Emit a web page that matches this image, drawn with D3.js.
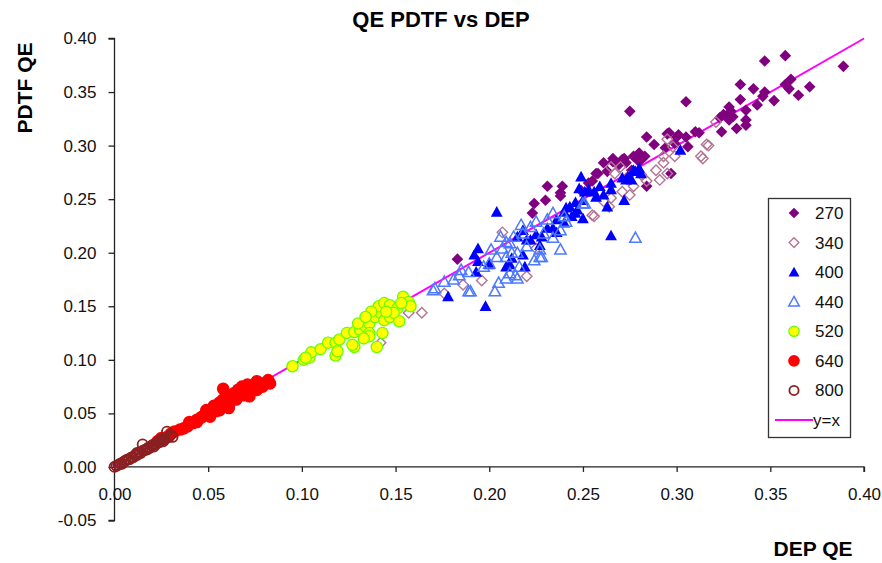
<!DOCTYPE html>
<html>
<head>
<meta charset="utf-8">
<script src="https://cdn.jsdelivr.net/npm/d3@7"></script>
<style>
  html, body { margin: 0; padding: 0; background: #fff; }
  svg { display: block; font-family: Arial, "Liberation Sans", sans-serif; }
</style>
</head>
<body>
<div id="chart"></div>
<script>
// QE PDTF vs DEP — scatter by wavelength

const xTicks = [0, 0.05, 0.10, 0.15, 0.20, 0.25, 0.30, 0.35, 0.40];
const yTicks = [-0.05, 0, 0.05, 0.10, 0.15, 0.20, 0.25, 0.30, 0.35, 0.40];

// [DEP QE, PDTF QE]
const s270 = [
    [0.275,0.332],[0.305,0.341],[0.347,0.379],[0.358,0.384],[0.389,0.374],[0.334,0.357],[0.341,0.353],
    [0.347,0.350],[0.346,0.346],[0.352,0.342],[0.358,0.357],[0.361,0.362],[0.360,0.353],[0.365,0.347],
    [0.371,0.355],[0.334,0.343],[0.343,0.338],[0.337,0.333],[0.328,0.336],[0.329,0.332],[0.325,0.329],
    [0.323,0.326],[0.328,0.324],[0.330,0.327],[0.337,0.324],[0.332,0.316],[0.324,0.313],[0.337,0.319],
    [0.310,0.313],[0.305,0.308],[0.300,0.308],[0.296,0.312],[0.284,0.308],[0.288,0.301],[0.294,0.298],
    [0.306,0.299],[0.299,0.302],[0.280,0.293],[0.277,0.290],[0.272,0.288],[0.266,0.288],[0.295,0.311],
    [0.301,0.310],[0.312,0.312],[0.279,0.291],[0.280,0.285],[0.273,0.284],[0.266,0.285],[0.271,0.287],
    [0.261,0.284],[0.263,0.276],[0.257,0.274],[0.255,0.267],[0.276,0.277],[0.284,0.262],[0.297,0.274],
    [0.239,0.262],[0.238,0.256],[0.183,0.194],[0.223,0.237],[0.224,0.246],[0.230,0.249],[0.238,0.253],
    [0.231,0.262],[0.253,0.265],[0.258,0.274],[0.283,0.290],[0.269,0.282],[0.249,0.258]
];
const s340 = [
    [0.295,0.306],[0.317,0.300],[0.313,0.290],[0.321,0.322],[0.298,0.299],[0.293,0.290],[0.316,0.301],
    [0.314,0.288],[0.299,0.290],[0.293,0.284],[0.295,0.274],[0.289,0.277],[0.291,0.268],[0.284,0.267],
    [0.277,0.262],[0.275,0.254],[0.271,0.257],[0.265,0.251],[0.264,0.243],[0.261,0.248],[0.256,0.234],
    [0.267,0.274],[0.270,0.280],[0.265,0.280],[0.274,0.271],[0.281,0.273],[0.207,0.219],[0.225,0.204],
    [0.220,0.178],[0.196,0.174],[0.186,0.170],[0.176,0.162],[0.164,0.144],[0.255,0.235],[0.157,0.144],
    [0.142,0.116]
];
const s400 = [
    [0.302,0.296],[0.249,0.271],[0.248,0.260],[0.251,0.257],[0.256,0.257],[0.259,0.262],[0.265,0.265],
    [0.265,0.259],[0.271,0.270],[0.274,0.271],[0.278,0.276],[0.280,0.279],[0.276,0.268],[0.272,0.249],
    [0.263,0.243],[0.257,0.252],[0.261,0.254],[0.246,0.237],[0.250,0.232],[0.241,0.242],[0.240,0.228],
    [0.265,0.216],[0.204,0.238],[0.253,0.259],[0.243,0.243],[0.240,0.238],[0.236,0.231],[0.231,0.223],
    [0.225,0.217],[0.220,0.212],[0.218,0.221],[0.215,0.215],[0.194,0.204],[0.192,0.198],[0.194,0.192],
    [0.200,0.189],[0.193,0.182],[0.211,0.189],[0.219,0.187],[0.212,0.195],[0.178,0.159],[0.277,0.277],
    [0.281,0.274],[0.273,0.268],[0.198,0.150],[0.218,0.198],[0.209,0.187],[0.222,0.212],[0.228,0.215],
    [0.234,0.223],[0.244,0.234],[0.247,0.240],[0.250,0.249],[0.246,0.247],[0.227,0.207],[0.236,0.219]
];
const s440 = [
    [0.170,0.165],[0.181,0.175],[0.189,0.182],[0.184,0.179],[0.190,0.164],[0.203,0.164],[0.205,0.172],
    [0.200,0.190],[0.204,0.196],[0.207,0.204],[0.211,0.209],[0.215,0.200],[0.209,0.196],[0.211,0.181],
    [0.215,0.176],[0.209,0.176],[0.216,0.187],[0.224,0.193],[0.227,0.196],[0.238,0.203],[0.234,0.214],
    [0.238,0.221],[0.241,0.229],[0.234,0.237],[0.218,0.218],[0.222,0.224],[0.225,0.229],[0.231,0.231],
    [0.250,0.246],[0.213,0.215],[0.209,0.210],[0.206,0.215],[0.201,0.203],[0.197,0.187],[0.227,0.203],
    [0.220,0.206],[0.278,0.214],[0.251,0.246],[0.240,0.234],[0.189,0.164],[0.171,0.167],[0.176,0.173],
    [0.185,0.184],[0.214,0.179],[0.228,0.196],[0.217,0.226],[0.229,0.218],[0.212,0.200]
];
const s520 = [
    [0.095,0.094],[0.101,0.100],[0.104,0.102],[0.105,0.107],[0.110,0.110],[0.114,0.116],[0.118,0.116],
    [0.120,0.119],[0.118,0.104],[0.119,0.108],[0.124,0.125],[0.128,0.126],[0.128,0.112],[0.127,0.114],
    [0.131,0.128],[0.134,0.131],[0.130,0.134],[0.136,0.134],[0.139,0.140],[0.142,0.144],[0.136,0.125],
    [0.140,0.112],[0.136,0.122],[0.144,0.137],[0.147,0.140],[0.141,0.150],[0.144,0.153],[0.147,0.151],
    [0.151,0.148],[0.152,0.136],[0.149,0.144],[0.154,0.159],[0.157,0.154],[0.158,0.150],[0.153,0.153],
    [0.145,0.145],[0.137,0.145],[0.134,0.140],[0.133,0.120],[0.143,0.125],[0.102,0.102]
];
const s640 = [
    [0.032,0.033],[0.035,0.035],[0.039,0.038],[0.040,0.042],[0.044,0.044],[0.047,0.047],[0.049,0.049],
    [0.051,0.052],[0.055,0.056],[0.056,0.060],[0.058,0.063],[0.060,0.066],[0.062,0.067],[0.064,0.069],
    [0.066,0.072],[0.068,0.075],[0.071,0.077],[0.072,0.074],[0.076,0.080],[0.080,0.078],[0.082,0.081],
    [0.083,0.078],[0.074,0.075],[0.069,0.067],[0.065,0.063],[0.062,0.061],[0.058,0.058],[0.054,0.052],
    [0.049,0.053],[0.046,0.046],[0.042,0.041],[0.037,0.036],[0.058,0.073],[0.070,0.070],[0.076,0.072],
    [0.078,0.077],[0.072,0.066],[0.061,0.055],[0.056,0.053],[0.051,0.047],[0.025,0.027],[0.028,0.028],
    [0.023,0.024],[0.030,0.031],[0.053,0.057],[0.063,0.064],[0.067,0.070],[0.079,0.075],[0.044,0.042]
];
const s800 = [
    [0.000,0.000],[0.001,0.001],[0.002,0.002],[0.003,0.003],[0.004,0.003],[0.005,0.005],[0.006,0.006],
    [0.007,0.007],[0.008,0.007],[0.009,0.009],[0.010,0.009],[0.011,0.011],[0.012,0.011],[0.013,0.013],
    [0.014,0.013],[0.015,0.021],[0.015,0.015],[0.016,0.016],[0.017,0.016],[0.018,0.018],[0.019,0.018],
    [0.020,0.020],[0.021,0.021],[0.022,0.021],[0.023,0.023],[0.024,0.023],[0.025,0.025],[0.026,0.026],
    [0.027,0.026],[0.028,0.033],[0.031,0.028],[0.029,0.028],[0.030,0.030],[0.021,0.019],[0.024,0.025],
    [0.026,0.024],[0.018,0.017],[0.012,0.013]
];
const lineYX = [[0, 0], [0.40, 0.40]];

const legendLabels = ['270', '340', '400', '440', '520', '640', '800', 'y=x'];

// marker shapes (Excel-like)
const diamond = {
    draw(ctx, size) {
        const r = Math.sqrt(size) / 2;
        ctx.moveTo(0, -r); ctx.lineTo(r, 0); ctx.lineTo(0, r); ctx.lineTo(-r, 0); ctx.closePath();
    }
};
const triangle = {
    draw(ctx, size) {
        const w = Math.sqrt(size) / 2;
        ctx.moveTo(0, -w); ctx.lineTo(w, w * 0.8); ctx.lineTo(-w, w * 0.8); ctx.closePath();
    }
};
const circle = {
    draw(ctx, size) {
        const r = Math.sqrt(size) / 2;
        ctx.moveTo(r, 0); ctx.arc(0, 0, r, 0, 2 * Math.PI);
    }
};

const series = [
    { name: '270', data: s270, type: diamond, size: 135, fill: '#800080', stroke: 'none', sw: 0 },
    { name: '340', data: s340, type: diamond, size: 110, fill: 'none', stroke: '#b27593', sw: 1.4 },
    { name: '400', data: s400, type: triangle, size: 140, fill: '#0000ff', stroke: 'none', sw: 0 },
    { name: '440', data: s440, type: triangle, size: 130, fill: 'none', stroke: '#4d79ff', sw: 1.5 },
    { name: '520', data: s520, type: circle, size: 125, fill: '#ffff00', stroke: '#66ff00', sw: 1.3 },
    { name: '640', data: s640, type: circle, size: 160, fill: '#ff0000', stroke: 'none', sw: 0 },
    { name: '800', data: s800, type: circle, size: 100, fill: 'none', stroke: '#8b2020', sw: 1.8 }
];

function renderChart() {
    const width = 882, height = 563;
    const svg = d3.select('#chart').append('svg')
        .attr('width', width)
        .attr('height', height);

    const x = d3.scaleLinear().domain([0, 0.40]).range([114.5, 864]);
    const y = d3.scaleLinear().domain([-0.05, 0.40]).range([520.5, 38.5]);
    // Excel prints a plain hyphen for negatives
    const fmt = d => d3.format('.2f')(d).replace('\u2212', '-');

    // y axis
    const yAxis = svg.append('g')
        .attr('transform', `translate(${x(0)},0)`)
        .call(d3.axisLeft(y).tickValues(yTicks).tickFormat(fmt).tickSize(6).tickPadding(12));
    // x axis on y = 0
    const xAxis = svg.append('g')
        .attr('transform', `translate(0,${y(0)})`)
        .call(d3.axisBottom(x).tickValues(xTicks).tickFormat(fmt).tickSize(5).tickPadding(16));

    [yAxis, xAxis].forEach(g => {
        g.select('.domain').attr('stroke', '#222').attr('stroke-width', 1.3);
        g.selectAll('.tick line').attr('stroke', '#222').attr('stroke-width', 1.3);
        g.selectAll('.tick text')
            .attr('font-size', 17)
            .attr('font-family', 'Arial, "Liberation Sans", sans-serif')
            .attr('fill', '#111');
    });
    yAxis.select('.domain').attr('d', `M-6,${y(-0.05)}H0V${y(0.40)}H-6`);
    xAxis.select('.domain').attr('d', `M${x(0)},0H${x(0.40)}V5`);

    // y = x line
    svg.append('path')
        .datum(lineYX)
        .attr('d', d3.line().x(d => x(d[0])).y(d => y(d[1])))
        .attr('stroke', '#ff00ff')
        .attr('stroke-width', 2)
        .attr('fill', 'none');

    // points
    series.forEach(s => {
        svg.append('g')
            .selectAll('path')
            .data(s.data)
            .join('path')
            .attr('transform', d => `translate(${x(d[0])},${y(d[1])})`)
            .attr('d', d3.symbol().type(s.type).size(s.size))
            .attr('fill', s.fill)
            .attr('stroke', s.stroke)
            .attr('stroke-width', s.sw);
    });

    // titles
    svg.append('text')
        .attr('x', 441).attr('y', 27)
        .attr('text-anchor', 'middle')
        .attr('font-size', 22).attr('font-weight', 'bold')
        .text('QE PDTF vs DEP');
    svg.append('text')
        .attr('transform', 'translate(32,88) rotate(-90)')
        .attr('text-anchor', 'middle')
        .attr('font-size', 21).attr('font-weight', 'bold')
        .text('PDTF QE');
    svg.append('text')
        .attr('x', 813).attr('y', 556)
        .attr('text-anchor', 'middle')
        .attr('font-size', 21).attr('font-weight', 'bold')
        .text('DEP QE');

    // legend
    const legend = svg.append('g');
    legend.append('rect')
        .attr('x', 768.5).attr('y', 198.5)
        .attr('width', 82).attr('height', 239)
        .attr('fill', '#fff')
        .attr('stroke', '#333')
        .attr('stroke-width', 1.3);
    const ly = d3.scalePoint().domain(legendLabels).range([213, 420]);
    series.forEach(s => {
        legend.append('path')
            .attr('transform', `translate(794,${ly(s.name)})`)
            .attr('d', d3.symbol().type(s.type).size(s.size * 0.85))
            .attr('fill', s.fill)
            .attr('stroke', s.stroke)
            .attr('stroke-width', s.sw);
    });
    legend.append('line')
        .attr('x1', 775).attr('x2', 813)
        .attr('y1', ly('y=x')).attr('y2', ly('y=x'))
        .attr('stroke', '#ff00ff').attr('stroke-width', 2);
    legend.selectAll('text.lbl')
        .data(legendLabels)
        .join('text')
        .attr('class', 'lbl')
        .attr('x', d => d === 'y=x' ? 813 : 815)
        .attr('y', d => ly(d))
        .attr('dy', '0.35em')
        .attr('font-size', 17)
        .attr('fill', '#111')
        .text(d => d);
}

document.addEventListener('DOMContentLoaded', () => {
    if (typeof d3 !== 'undefined') renderChart();
});
</script>
</body>
</html>
